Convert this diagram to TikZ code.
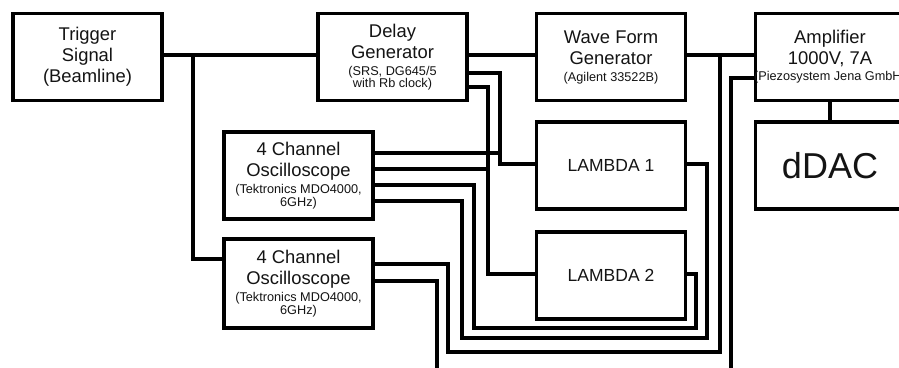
\documentclass[tikz,border=0pt]{standalone}
\usepackage{fontspec}
\setmainfont{Liberation Sans}
\newcommand\boxtitlefont{\fontsize{18.4}{21}\selectfont}
\newcommand\smalltxt[1]{{\fontsize{12.7}{13}\selectfont #1}}
\begin{document}
\begin{tikzpicture}[x=1pt,y=-1pt,
  block/.style={draw, line width=3.2pt, minimum width=149pt, minimum height=87pt,
    inner sep=0pt, align=center, font=\boxtitlefont, text=black!92},
  wire/.style={line width=3.2pt, line join=miter}]
\useasboundingbox (0,0) rectangle (899,367);
\clip (0,0) rectangle (899,367);
\fill[white] (0,0) rectangle (899,367);

% instruments
\node[block] (trig) at (87.5,57) {Trigger\\Signal\\(Beamline)};
\node[block] (delay) at (392.5,57) {Delay\\Generator\\[-4pt]\smalltxt{(SRS, DG645/5}\\[-8.5pt]\smalltxt{with Rb clock)}};
\node[block] (wave) at (611,57) {Wave Form\\Generator\\[-4pt]\smalltxt{(Agilent 33522B)}};
\node[block] (amp) at (830,57) {Amplifier\\1000V, 7A\\[-5pt]\smalltxt{\makebox[0pt]{(Piezosystem Jena GmbH)}}};
\node[block, font=\fontsize{36}{40}\selectfont] (ddac) at (830,165.5) {dDAC};
\node[block] (osc1) at (298.5,175.5) {4 Channel\\Oscilloscope\\[-4pt]\smalltxt{(Tektronics MDO4000,}\\[-8.5pt]\smalltxt{6GHz)}};
\node[block, minimum height=89pt] (osc2) at (298.5,283.5) {4 Channel\\Oscilloscope\\[-4pt]\smalltxt{(Tektronics MDO4000,}\\[-8.5pt]\smalltxt{6GHz)}};
\node[block, font=\fontsize{17.5}{21}\selectfont] (lam1) at (611,165.5) {LAMBDA 1};
\node[block, font=\fontsize{17.5}{21}\selectfont] (lam2) at (611,275.5) {LAMBDA 2};

% junctions and cable ends
\coordinate (j1) at (193,55);
\coordinate (j2) at (720,55);
\coordinate (j3) at (500,153);
\coordinate (j4) at (488,169);
\coordinate (outA) at (731,380);
\coordinate (outB) at (437,380);

% trigger chain
\draw[wire] (trig.east |- 0,55) -- (delay.west |- 0,55);
\draw[wire] (j1) |- (osc2.west |- 0,259);
\draw[wire] (delay.east |- 0,55) -- (wave.west |- 0,55);
\draw[wire] (wave.east |- 0,55) -- (amp.west |- 0,55);
\draw[wire] (amp.south) -- (ddac.north);
\draw[wire] (amp.west |- 0,78) -| (outA);

% delay outputs to the lasers
\draw[wire] (delay.east |- 0,73) -| (500,164) -- (lam1.west |- 0,164);
\draw[wire] (delay.east |- 0,87) -| (488,274) -- (lam2.west |- 0,274);

% oscilloscope channels
\draw[wire] (osc1.east |- 0,153) -- (j3);
\draw[wire] (osc1.east |- 0,169) -- (j4);
\draw[wire] (osc1.east |- 0,185) -| (474,328) -| (696,274) -- (lam2.east |- 0,274);
\draw[wire] (osc1.east |- 0,201) -| (462,338) -| (707,164) -- (lam1.east |- 0,164);
\draw[wire] (osc2.east |- 0,264) -| (448,352) -| (j2);
\draw[wire] (osc2.east |- 0,281) -| (outB);
\end{tikzpicture}
\end{document}
